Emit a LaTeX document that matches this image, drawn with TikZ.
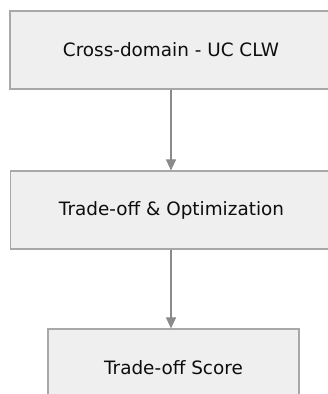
\documentclass[tikz,border=0pt]{standalone}
\usepackage{fontspec}
\setmainfont{DejaVu Sans}
\usetikzlibrary{arrows.meta}
\definecolor{boxfill}{HTML}{EFEFEF}
\definecolor{boxline}{HTML}{A8A8A8}
\definecolor{linkgray}{HTML}{8A8A8A}
\tikzset{
  stepbox/.style={draw=boxline, fill=boxfill, line width=1.2pt, rectangle,
    minimum height=78pt, inner sep=0pt, font=\fontsize{18.4}{22}\selectfont, text=black!95},
  link/.style={draw=linkgray, line width=1.1pt, -{Triangle[width=10pt,length=11pt]}}
}
\begin{document}
\begin{tikzpicture}[x=1pt,y=-1pt]
  \useasboundingbox (0,0) rectangle (328,394);
  \clip (0,0) rectangle (328,394);
  \node[stepbox, minimum width=322pt] (cross) at (171,50) {Cross-domain - UC CLW};
  \node[stepbox, minimum width=322pt] (trade) at (171.5,210) {Trade-off \& Optimization};
  \node[stepbox, minimum width=251pt] (score) at (173.5,368) {Trade-off Score};
  \draw[link] (cross.south -| 171,0) -- (trade.north -| 171,0);
  \draw[link] (trade.south -| 171,0) -- (score.north -| 171,0);
\end{tikzpicture}
\end{document}
